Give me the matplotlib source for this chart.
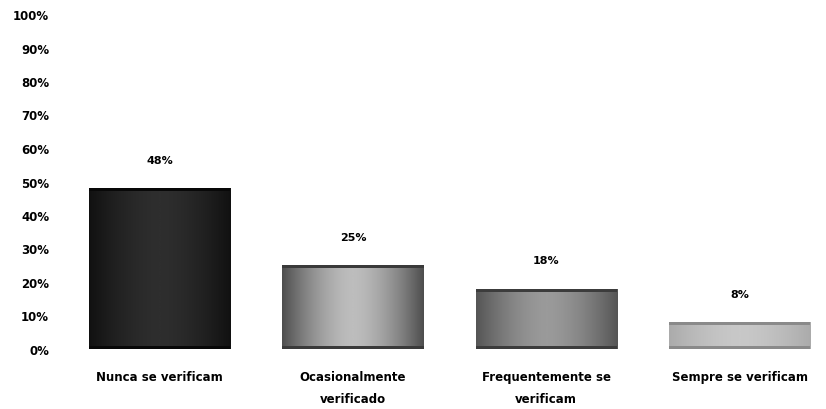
import numpy as np
import matplotlib
matplotlib.use("Agg")
import matplotlib.pyplot as plt
from matplotlib.colors import LinearSegmentedColormap
from matplotlib.patches import Rectangle

categories = ["Nunca se verificam", "Ocasionalmente\nverificado",
              "Frequentemente se\nverificam", "Sempre se verificam"]
values = [48, 25, 18, 8]
value_labels = ["48%", "25%", "18%", "8%"]
y_ticks = [0, 10, 20, 30, 40, 50, 60, 70, 80, 90, 100]
y_tick_labels = ["0%", "10%", "20%", "30%", "40%", "50%", "60%", "70%", "80%", "90%", "100%"]

# cylinder-like shading per bar: (edge colour, centre colour, rim colour)
shades = [("#111111", "#2e2e2e", "#080808"),
          ("#4e4e4e", "#bdbdbd", "#3a3a3a"),
          ("#555555", "#9a9a9a", "#3c3c3c"),
          ("#ababab", "#c8c8c8", "#8a8a8a")]

fig = plt.figure(figsize=(8.26, 4.10), dpi=100)
ax = fig.add_axes([63 / 826, 60 / 410, 763 / 826, 335 / 410])
ax.set_xlim(-0.5, -0.5 + 763 / 193.3)
ax.set_ylim(0, 100)

width = 0.73
x = np.arange(len(values))
bars = ax.bar(x, values, width=width, color="none", edgecolor="none")

grad = np.abs(np.linspace(-1, 1, 256)) ** 1.6
grad = grad.reshape(1, -1)
for b, (edge, centre, rim) in zip(bars, shades):
    x0, w, h = b.get_x(), b.get_width(), b.get_height()
    cmap = LinearSegmentedColormap.from_list("s", [centre, edge])
    im = ax.imshow(grad, cmap=cmap, aspect="auto", extent=(x0, x0 + w, 0, h),
                   interpolation="bilinear", zorder=2)
    im.set_clip_path(b)
    ax.add_patch(Rectangle((x0, h - 0.9), w, 0.9, color=rim, zorder=3, lw=0))
    ax.add_patch(Rectangle((x0, 0), w, 0.9, color=rim, zorder=3, lw=0))

for xi, v, lab in zip(x, values, value_labels):
    ax.text(xi, v + 8.5, lab, ha="center", va="center", fontsize=8,
            fontweight="bold", color="black")

ax.set_xticks(x)
ax.set_xticklabels(categories, fontsize=8.5, fontweight="bold", linespacing=1.9)
ax.set_yticks(y_ticks)
ax.set_yticklabels(y_tick_labels, fontsize=8.5, fontweight="bold")
ax.tick_params(axis="x", length=0, pad=15)
ax.tick_params(axis="y", length=0, pad=10)
for s in ax.spines.values():
    s.set_visible(False)

fig.savefig("out.png", dpi=100)
